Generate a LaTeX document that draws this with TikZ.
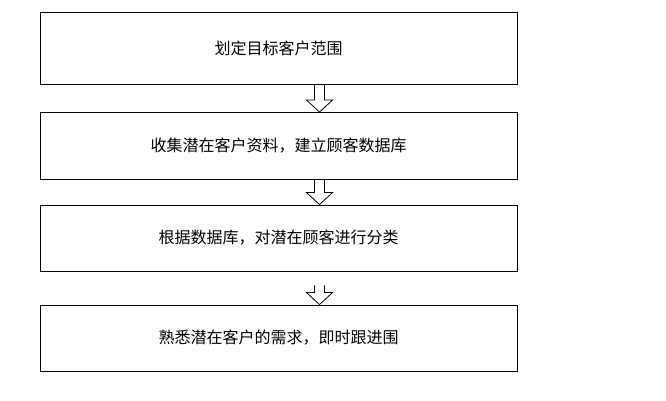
\documentclass[tikz,border=0pt]{standalone}
\usepackage{fontspec}
\setmainfont{Noto Sans CJK SC}
\usetikzlibrary{calc}
\tikzset{
  stepbox/.style={draw, line width=0.9pt, minimum width=477pt, inner sep=0pt, font=\fontsize{16}{19}\selectfont},
}
% hollow down arrow from bottom of one box to top of the next
\newcommand{\hollowarrow}[3]{%
  \draw[line width=0.8pt]
    ($(#1.south)+(36,#3)$) -- ($(#2.north)+(36,-12)$) -- ($(#2.north)+(28,-12)$)
    -- ($(#2.north)+(41,0)$) -- ($(#2.north)+(54,-12)$) -- ($(#2.north)+(46,-12)$)
    -- ($(#1.south)+(46,#3)$);}
\begin{document}
\begin{tikzpicture}[x=1pt,y=-1pt]
	\useasboundingbox (0,0) rectangle (666,400);
	
	% boxes
	\node[stepbox, minimum height=72pt] (target) at (278.5,48) {划定目标客户范围};
	\node[stepbox, minimum height=67pt] (collect) at (278.5,146) {收集潜在客户资料，建立顾客数据库};
	\node[stepbox, minimum height=66pt] (sort) at (278.5,238) {根据数据库，对潜在顾客进行分类};
	\node[stepbox, minimum height=66pt] (follow) at (278.5,338) {熟悉潜在客户的需求，即时跟进围};
	
	% arrows
	\hollowarrow{target}{collect}{0}
	\hollowarrow{collect}{sort}{0}
	\hollowarrow{sort}{follow}{14}
	
\end{tikzpicture}
\end{document}
